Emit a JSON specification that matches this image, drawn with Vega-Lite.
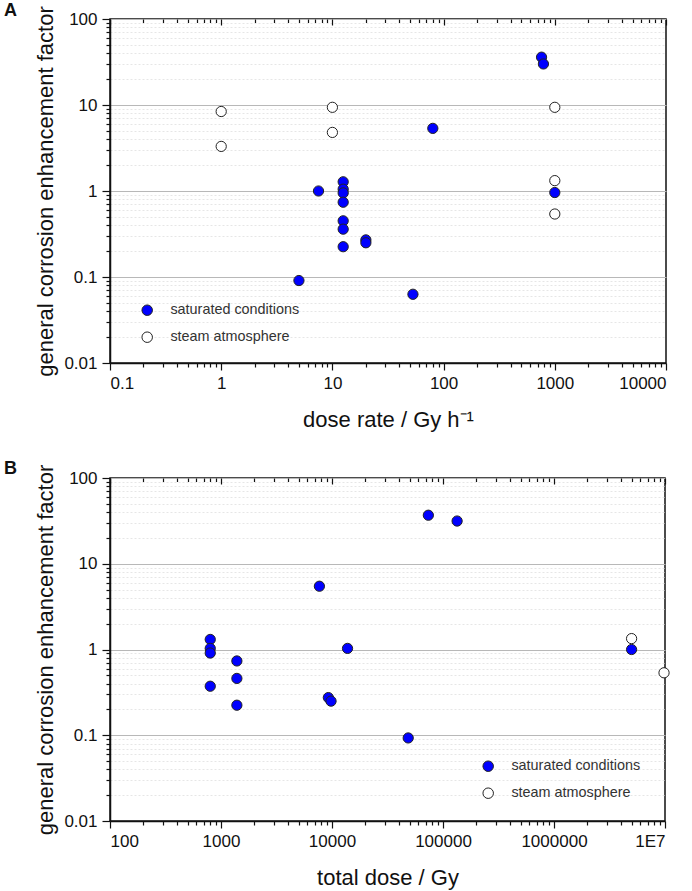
{
  "$schema": "https://vega.github.io/schema/vega-lite/v6.json",
  "padding": {"left": 3, "top": 0, "right": 5, "bottom": 3},
  "background": "white",
  "config": {
    "font": "Liberation Sans",
    "view": {"stroke": "#111", "strokeWidth": 1.5},
    "axis": {"labelFont": "Liberation Sans", "titleFont": "Liberation Sans", "labelColor": "#111", "titleColor": "#111", "titleFontWeight": "normal"}
  },
  "datasets": {
    "rate": [
      {"x": 1, "f": 8.4, "cond": "steam atmosphere"},
      {"x": 1, "f": 3.3, "cond": "steam atmosphere"},
      {"x": 10, "f": 9.4, "cond": "steam atmosphere"},
      {"x": 10, "f": 4.8, "cond": "steam atmosphere"},
      {"x": 1000, "f": 9.4, "cond": "steam atmosphere"},
      {"x": 1000, "f": 1.32, "cond": "steam atmosphere"},
      {"x": 1000, "f": 0.54, "cond": "steam atmosphere"},
      {"x": 5, "f": 0.091, "cond": "saturated conditions"},
      {"x": 7.5, "f": 1.0, "cond": "saturated conditions"},
      {"x": 12.5, "f": 1.28, "cond": "saturated conditions"},
      {"x": 12.5, "f": 1.05, "cond": "saturated conditions"},
      {"x": 12.5, "f": 0.95, "cond": "saturated conditions"},
      {"x": 12.5, "f": 0.74, "cond": "saturated conditions"},
      {"x": 12.5, "f": 0.45, "cond": "saturated conditions"},
      {"x": 12.5, "f": 0.36, "cond": "saturated conditions"},
      {"x": 12.5, "f": 0.225, "cond": "saturated conditions"},
      {"x": 20, "f": 0.27, "cond": "saturated conditions"},
      {"x": 20, "f": 0.25, "cond": "saturated conditions"},
      {"x": 53, "f": 0.063, "cond": "saturated conditions"},
      {"x": 80, "f": 5.35, "cond": "saturated conditions"},
      {"x": 760, "f": 36, "cond": "saturated conditions"},
      {"x": 790, "f": 30, "cond": "saturated conditions"},
      {"x": 1000, "f": 0.96, "cond": "saturated conditions"}
    ],
    "total": [
      {"x": 5000000, "f": 1.34, "cond": "steam atmosphere"},
      {"x": 9800000, "f": 0.535, "cond": "steam atmosphere"},
      {"x": 800, "f": 1.31, "cond": "saturated conditions"},
      {"x": 800, "f": 1.03, "cond": "saturated conditions"},
      {"x": 800, "f": 0.91, "cond": "saturated conditions"},
      {"x": 800, "f": 0.373, "cond": "saturated conditions"},
      {"x": 1390, "f": 0.735, "cond": "saturated conditions"},
      {"x": 1390, "f": 0.46, "cond": "saturated conditions"},
      {"x": 1390, "f": 0.224, "cond": "saturated conditions"},
      {"x": 7700, "f": 5.47, "cond": "saturated conditions"},
      {"x": 13800, "f": 1.03, "cond": "saturated conditions"},
      {"x": 9270, "f": 0.275, "cond": "saturated conditions"},
      {"x": 9800, "f": 0.25, "cond": "saturated conditions"},
      {"x": 48600, "f": 0.093, "cond": "saturated conditions"},
      {"x": 73800, "f": 36.8, "cond": "saturated conditions"},
      {"x": 134000, "f": 31.5, "cond": "saturated conditions"},
      {"x": 5000000, "f": 1.0, "cond": "saturated conditions"}
    ]
  },
  "spacing": 28,
  "resolve": {"scale": {"fill": "independent"}, "legend": {"fill": "independent"}},
  "vconcat": [
    {
      "width": 556,
      "height": 344,
      "title": {"text": "A", "anchor": "start", "frame": "bounds", "fontSize": 18, "fontWeight": "bold", "dx": -31, "offset": -14, "color": "#111"},
      "data": {"name": "rate"},
      "resolve": {"axis": {"x": "independent"}},
      "layer": [
        {
          "mark": {"type": "point", "opacity": 0},
          "encoding": {
            "x": {"field": "x", "type": "quantitative", "scale": {"type": "log", "domain": [0.1, 10000]},
              "axis": {"orient": "top", "labels": false, "title": null, "domain": false, "grid": false,
                "values": [0.1,0.2,0.3,0.4,0.5,0.6,0.7,0.8,0.9,1,2,3,4,5,6,7,8,9,10,20,30,40,50,60,70,80,90,100,200,300,400,500,600,700,800,900,1000,2000,3000,4000,5000,6000,7000,8000,9000,10000],
                "tickColor": "#111", "tickWidth": 1.2,
                "tickSize": {"condition": {"test": "abs(log(datum.value)/LN10 - round(log(datum.value)/LN10)) < 0.001", "value": -6}, "value": -3.5}}}
          }
        },
        {
          "mark": {"type": "point", "filled": true, "shape": "circle", "size": 105, "stroke": "#222", "strokeWidth": 1, "opacity": 1},
          "encoding": {
            "x": {"field": "x", "type": "quantitative", "scale": {"type": "log", "domain": [0.1, 10000]},
              "axis": {"orient": "bottom", "title": "dose rate / Gy h⁻¹", "titleFontSize": 22, "titlePadding": 18, "labelFontSize": 17, "labelPadding": 5,
                "domainColor": "#111", "domainWidth": 1.5, "tickColor": "#111", "tickWidth": 1.2, "grid": false,
                "values": [0.1,0.2,0.3,0.4,0.5,0.6,0.7,0.8,0.9,1,2,3,4,5,6,7,8,9,10,20,30,40,50,60,70,80,90,100,200,300,400,500,600,700,800,900,1000,2000,3000,4000,5000,6000,7000,8000,9000,10000],
                "labelExpr": "abs(log(datum.value)/LN10 - round(log(datum.value)/LN10)) < 0.001 ? format(datum.value, '~f') : ''",
                "tickSize": {"condition": {"test": "abs(log(datum.value)/LN10 - round(log(datum.value)/LN10)) < 0.001", "value": 7}, "value": 4}}},
            "y": {"field": "f", "type": "quantitative", "scale": {"type": "log", "domain": [0.01, 100]},
              "axis": {"title": "general corrosion enhancement factor", "titleFontSize": 22, "titlePadding": 6, "labelFontSize": 17, "labelPadding": 5,
                "domainColor": "#111", "domainWidth": 1.5, "tickColor": "#111", "tickWidth": 1.2, "grid": true,
                "values": [0.01,0.02,0.03,0.04,0.05,0.06,0.07,0.08,0.09,0.1,0.2,0.3,0.4,0.5,0.6,0.7,0.8,0.9,1,2,3,4,5,6,7,8,9,10,20,30,40,50,60,70,80,90,100],
                "labelExpr": "abs(log(datum.value)/LN10 - round(log(datum.value)/LN10)) < 0.001 ? format(datum.value, '~f') : ''",
                "tickSize": {"condition": {"test": "abs(log(datum.value)/LN10 - round(log(datum.value)/LN10)) < 0.001", "value": 8}, "value": 4},
                "gridColor": {"condition": {"test": "abs(log(datum.value)/LN10 - round(log(datum.value)/LN10)) < 0.001", "value": "#b8b8b8"}, "value": "#e6e6e6"},
                "gridDash": {"condition": {"test": "abs(log(datum.value)/LN10 - round(log(datum.value)/LN10)) < 0.001", "value": []}, "value": [2, 2]},
                "gridWidth": 1}},
            "fill": {"field": "cond", "type": "nominal",
              "scale": {"domain": ["saturated conditions", "steam atmosphere"], "range": ["#0000ff", "#ffffff"]},
              "legend": {"title": null, "orient": "none", "legendX": 30, "legendY": 284, "padding": 0, "rowPadding": 11,
                "labelFontSize": 14.4, "labelColor": "#333", "labelOffset": 16, "symbolSize": 110, "symbolType": "circle",
                "symbolStrokeColor": "#222", "symbolStrokeWidth": 1}}
          }
        }
      ]
    },
    {
      "width": 555,
      "height": 343,
      "title": {"text": "B", "anchor": "start", "frame": "bounds", "fontSize": 18, "fontWeight": "bold", "dx": -31, "offset": -14, "color": "#111"},
      "data": {"name": "total"},
      "resolve": {"axis": {"x": "independent"}},
      "layer": [
        {
          "mark": {"type": "point", "opacity": 0},
          "encoding": {
            "x": {"field": "x", "type": "quantitative", "scale": {"type": "log", "domain": [100, 10000000]},
              "axis": {"orient": "top", "labels": false, "title": null, "domain": false, "grid": false,
                "values": [100,200,300,400,500,600,700,800,900,1000,2000,3000,4000,5000,6000,7000,8000,9000,10000,20000,30000,40000,50000,60000,70000,80000,90000,100000,200000,300000,400000,500000,600000,700000,800000,900000,1000000,2000000,3000000,4000000,5000000,6000000,7000000,8000000,9000000,10000000],
                "tickColor": "#111", "tickWidth": 1.2,
                "tickSize": {"condition": {"test": "abs(log(datum.value)/LN10 - round(log(datum.value)/LN10)) < 0.001", "value": -6}, "value": -3.5}}}
          }
        },
        {
          "mark": {"type": "point", "filled": true, "shape": "circle", "size": 105, "stroke": "#222", "strokeWidth": 1, "opacity": 1},
          "encoding": {
            "x": {"field": "x", "type": "quantitative", "scale": {"type": "log", "domain": [100, 10000000]},
              "axis": {"orient": "bottom", "title": "total dose / Gy", "titleFontSize": 22, "titlePadding": 18, "labelFontSize": 17, "labelPadding": 5,
                "domainColor": "#111", "domainWidth": 1.5, "tickColor": "#111", "tickWidth": 1.2, "grid": false,
                "values": [100,200,300,400,500,600,700,800,900,1000,2000,3000,4000,5000,6000,7000,8000,9000,10000,20000,30000,40000,50000,60000,70000,80000,90000,100000,200000,300000,400000,500000,600000,700000,800000,900000,1000000,2000000,3000000,4000000,5000000,6000000,7000000,8000000,9000000,10000000],
                "labelExpr": "datum.value >= 9999999 ? '1E7' : (abs(log(datum.value)/LN10 - round(log(datum.value)/LN10)) < 0.001 ? format(datum.value, '~f') : '')",
                "tickSize": {"condition": {"test": "abs(log(datum.value)/LN10 - round(log(datum.value)/LN10)) < 0.001", "value": 7}, "value": 4}}},
            "y": {"field": "f", "type": "quantitative", "scale": {"type": "log", "domain": [0.01, 100]},
              "axis": {"title": "general corrosion enhancement factor", "titleFontSize": 22, "titlePadding": 6, "labelFontSize": 17, "labelPadding": 5,
                "domainColor": "#111", "domainWidth": 1.5, "tickColor": "#111", "tickWidth": 1.2, "grid": true,
                "values": [0.01,0.02,0.03,0.04,0.05,0.06,0.07,0.08,0.09,0.1,0.2,0.3,0.4,0.5,0.6,0.7,0.8,0.9,1,2,3,4,5,6,7,8,9,10,20,30,40,50,60,70,80,90,100],
                "labelExpr": "abs(log(datum.value)/LN10 - round(log(datum.value)/LN10)) < 0.001 ? format(datum.value, '~f') : ''",
                "tickSize": {"condition": {"test": "abs(log(datum.value)/LN10 - round(log(datum.value)/LN10)) < 0.001", "value": 8}, "value": 4},
                "gridColor": {"condition": {"test": "abs(log(datum.value)/LN10 - round(log(datum.value)/LN10)) < 0.001", "value": "#b8b8b8"}, "value": "#e6e6e6"},
                "gridDash": {"condition": {"test": "abs(log(datum.value)/LN10 - round(log(datum.value)/LN10)) < 0.001", "value": []}, "value": [2, 2]},
                "gridWidth": 1}},
            "fill": {"field": "cond", "type": "nominal",
              "scale": {"domain": ["saturated conditions", "steam atmosphere"], "range": ["#0000ff", "#ffffff"]},
              "legend": {"title": null, "orient": "none", "legendX": 371, "legendY": 281, "padding": 0, "rowPadding": 11,
                "labelFontSize": 14.4, "labelColor": "#333", "labelOffset": 16, "symbolSize": 110, "symbolType": "circle",
                "symbolStrokeColor": "#222", "symbolStrokeWidth": 1}}
          }
        }
      ]
    }
  ]
}
